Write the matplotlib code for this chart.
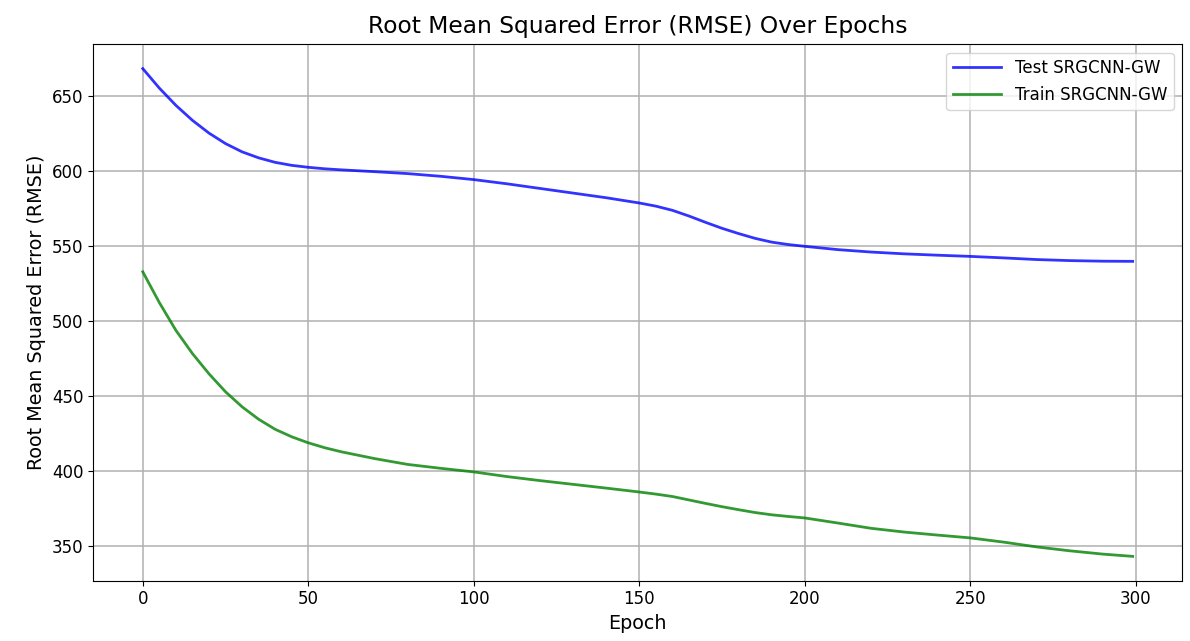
import numpy as np
import matplotlib
matplotlib.use("Agg")
import matplotlib.pyplot as plt

# values (denser where the curves bend)
epochs = [0, 5, 10, 15, 20, 25, 30, 35, 40, 45, 50, 55, 60, 70, 80, 90, 100, 110, 120,
          130, 140, 150, 155, 160, 165, 170, 175, 180, 185, 190, 195, 200, 210, 220,
          230, 240, 250, 260, 270, 280, 290, 299]

test_rmse = [668.5, 655.5, 644.0, 634.0, 625.5, 618.5, 613.0, 609.0, 606.0, 604.0,
             602.7, 601.7, 601.0, 599.8, 598.5, 596.7, 594.5, 591.7, 588.6, 585.5,
             582.4, 578.9, 576.8, 574.0, 570.2, 566.0, 562.0, 558.5, 555.3, 552.8,
             551.2, 550.0, 547.8, 546.2, 545.0, 544.1, 543.3, 542.3, 541.2, 540.5,
             540.1, 540.0]

train_rmse = [533.0, 512.5, 494.0, 478.5, 465.0, 453.0, 443.0, 434.7, 428.0, 423.0,
              419.0, 415.7, 413.0, 408.5, 404.6, 402.0, 399.6, 396.5, 393.8, 391.3,
              388.8, 386.2, 384.8, 383.2, 380.9, 378.6, 376.4, 374.4, 372.5, 371.0,
              369.9, 368.9, 365.5, 362.0, 359.5, 357.5, 355.6, 352.8, 349.6, 347.0,
              344.8, 343.3]

fig = plt.figure(figsize=(11.9, 6.41), dpi=100)
ax = fig.add_axes([0.0784, 0.094, 0.915, 0.837])

ax.plot(epochs, test_rmse, color='blue', alpha=0.8, linewidth=2, label='Test SRGCNN-GW')
ax.plot(epochs, train_rmse, color='green', alpha=0.8, linewidth=2, label='Train SRGCNN-GW')

ax.set_title('Root Mean Squared Error (RMSE) Over Epochs', fontsize=16.8, pad=8)
ax.set_xlabel('Epoch', fontsize=13.8, labelpad=4)
ax.set_ylabel('Root Mean Squared Error (RMSE)', fontsize=13.8)
ax.tick_params(labelsize=12)
ax.grid(True, linewidth=1.1)
ax.legend(fontsize=12, loc='upper right', handlelength=2.9)

fig.savefig('out.png', dpi=100)
